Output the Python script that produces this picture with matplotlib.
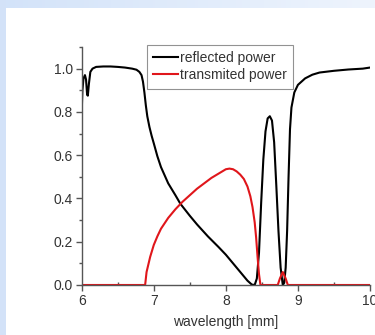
import numpy as np
import matplotlib
matplotlib.use("Agg")
import matplotlib.pyplot as plt
from matplotlib.ticker import MultipleLocator

plt.rcParams['font.family'] = ['Liberation Sans', 'DejaVu Sans']

# Reflected power (black)
x_ref = [6.00, 6.01, 6.025, 6.045, 6.06, 6.075, 6.085, 6.10, 6.12, 6.15, 6.2, 6.3, 6.4, 6.5,
         6.6, 6.7, 6.76, 6.80, 6.83, 6.85, 6.87, 6.89, 6.91, 6.94, 6.97, 7.0, 7.05, 7.1, 7.2, 7.3,
         7.37, 7.5, 7.6, 7.75, 7.9, 8.0, 8.1, 8.2, 8.3, 8.36, 8.40, 8.43, 8.46, 8.49, 8.52,
         8.55, 8.58, 8.61, 8.64, 8.67, 8.70, 8.73, 8.76, 8.79, 8.81, 8.83, 8.85, 8.87, 8.89,
         8.91, 8.95, 9.0, 9.1, 9.2, 9.3, 9.5, 9.7, 9.9, 10.0]
y_ref = [0.80, 0.90, 0.955, 0.97, 0.95, 0.88, 0.875, 0.93, 0.985, 1.0, 1.008, 1.01, 1.01, 1.008,
         1.005, 1.0, 0.995, 0.985, 0.97, 0.94, 0.89, 0.83, 0.78, 0.73, 0.69, 0.655, 0.595, 0.545, 0.47, 0.415,
         0.375, 0.32, 0.28, 0.225, 0.175, 0.14, 0.10, 0.06, 0.02, 0.002, 0.0, 0.03, 0.15, 0.38, 0.58,
         0.71, 0.77, 0.78, 0.76, 0.66, 0.46, 0.25, 0.08, 0.0, 0.01, 0.08, 0.25, 0.50, 0.72,
         0.82, 0.89, 0.925, 0.955, 0.972, 0.982, 0.99, 0.996, 1.0, 1.005]

# Transmitted power (red)
x_tr = [6.0, 6.88, 6.90, 6.95, 7.0, 7.05, 7.1, 7.2, 7.3, 7.4, 7.5, 7.6, 7.7, 7.8, 7.9,
        8.0, 8.05, 8.1, 8.15, 8.2, 8.25, 8.3, 8.34, 8.37, 8.40, 8.42, 8.44, 8.46, 8.48,
        8.72, 8.75, 8.79, 8.83, 8.86, 10.0]
y_tr = [0.0, 0.0, 0.06, 0.13, 0.185, 0.225, 0.26, 0.31, 0.35, 0.385, 0.415, 0.445, 0.47, 0.495, 0.515,
        0.535, 0.538, 0.535, 0.525, 0.51, 0.49, 0.455, 0.41, 0.36, 0.29, 0.22, 0.13, 0.05, 0.0,
        0.0, 0.03, 0.06, 0.03, 0.0, 0.0]

labels = ["reflected power", "transmited power"]
xlabel = "wavelength [mm]"

W, H = 375, 335
fig = plt.figure(figsize=(W / 100, H / 100), dpi=100)
fig.patch.set_facecolor('white')

# background decoration (blue bands)
bg = fig.add_axes([0, 0, 1, 1], zorder=-10)
grad = np.linspace(0, 1, 256)[None, :]
bg.imshow(grad, extent=[0, W, H - 8, H], aspect='auto',
          cmap=matplotlib.colors.LinearSegmentedColormap.from_list('b', ['#d3e3f9', '#eef4fd']))
bg.add_patch(plt.Rectangle((0, 0), 6, H, color='#d3e2f8', lw=0))
bg.set_xlim(0, W)
bg.set_ylim(0, H)
bg.axis('off')

ax = fig.add_axes([81.7 / W, 1 - 285 / H, (370 - 81.7) / W, (285 - 47) / H])
ax.set_facecolor('none')
ax.plot(x_ref, y_ref, color='black', lw=1.5, label=labels[0], solid_joinstyle='round')
ax.plot(x_tr, y_tr, color='#e0161b', lw=1.5, label=labels[1], solid_joinstyle='round')

ax.set_xlim(6, 10)
ax.set_ylim(0, 1.1)
for s in ['top', 'right']:
    ax.spines[s].set_visible(False)
for s in ['left', 'bottom']:
    ax.spines[s].set_color('#555555')
    ax.spines[s].set_linewidth(1.0)

ax.xaxis.set_major_locator(MultipleLocator(1))
ax.xaxis.set_minor_locator(MultipleLocator(0.5))
ax.yaxis.set_minor_locator(MultipleLocator(0.1))
ax.set_yticks([0, 0.2, 0.4, 0.6, 0.8, 1.0])
ax.set_yticklabels(['0.0', '0.2', '0.4', '0.6', '0.8', '1.0'])
ax.tick_params(which='major', direction='out', length=4, width=1, color='#555555',
               labelsize=10, labelcolor='#333333', pad=2.5)
ax.tick_params(which='minor', direction='in', length=2.5, width=1, color='#555555')
ax.tick_params(axis='y', which='minor', direction='out', length=2.5)

ax.set_xlabel(xlabel, fontsize=10, color='#333333', labelpad=5)

leg = ax.legend(loc='upper left', bbox_to_anchor=((147 - 81.7) / (370 - 81.7), 1.01),
                fontsize=10, frameon=True, fancybox=False, handlelength=1.8, handletextpad=0.1,
                borderpad=0.45, labelspacing=0.25, borderaxespad=0)
leg.get_frame().set_edgecolor('#777777')
leg.get_frame().set_linewidth(0.8)
for t in leg.get_texts():
    t.set_color('#333333')

fig.savefig('out.png', dpi=100)
